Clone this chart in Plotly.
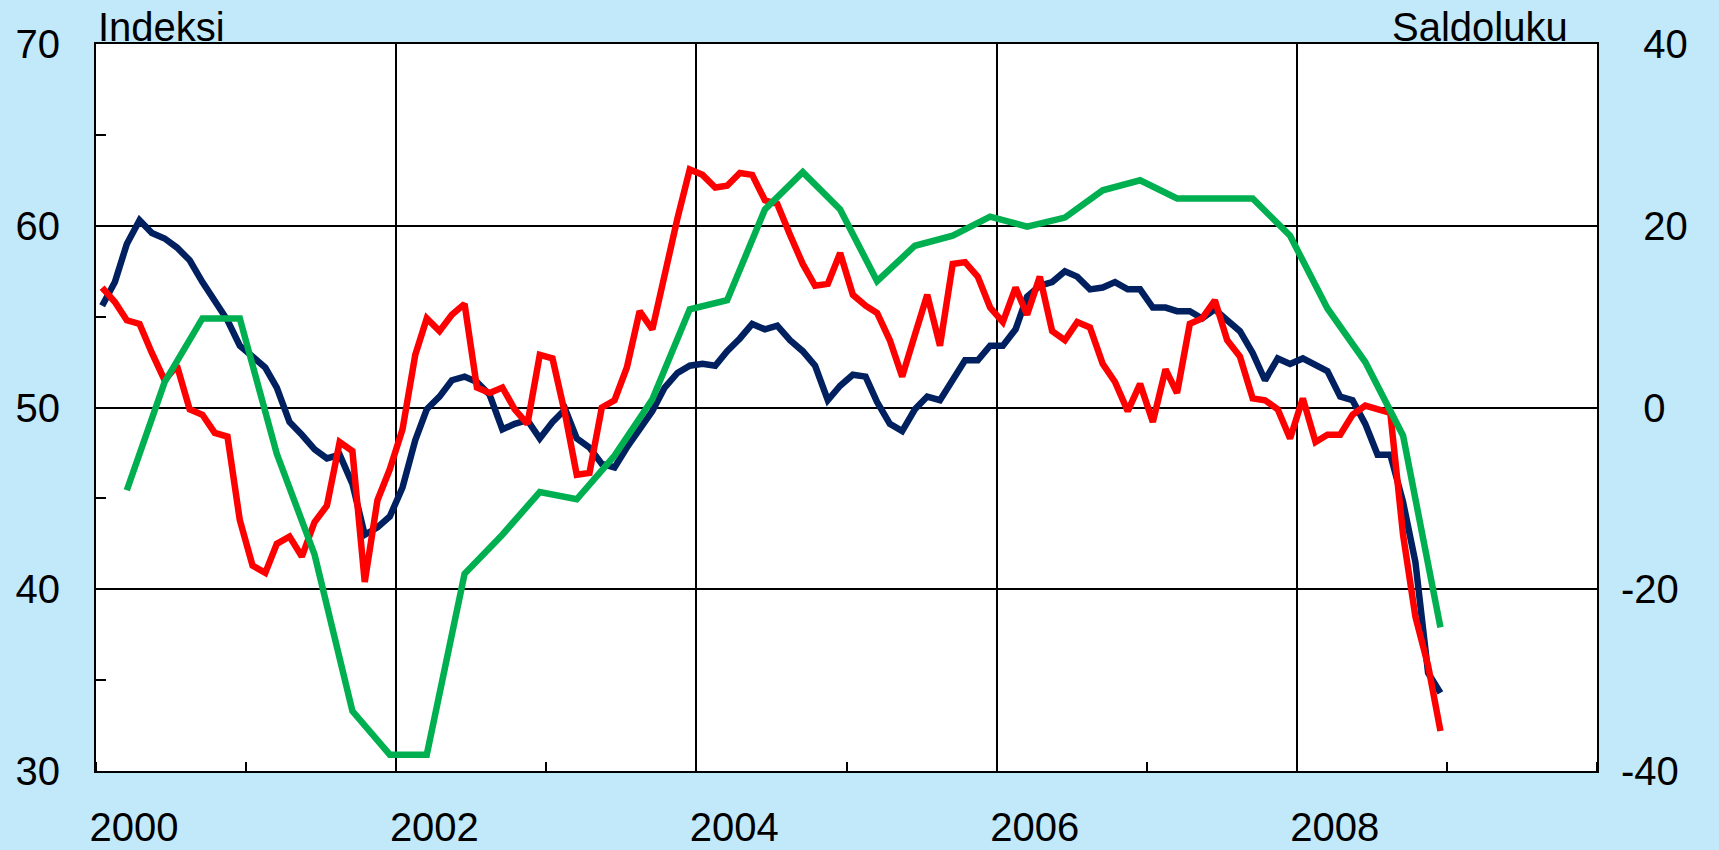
import pandas as pd
import plotly.graph_objects as go

# monthly series, Jan 2000 - Dec 2008 (left axis, index)
blue = [55.6, 56.9, 59.0, 60.3, 59.6, 59.3, 58.8, 58.1, 56.9, 55.8, 54.8, 53.4,
        52.8, 52.2, 51.1, 49.2, 48.5, 47.7, 47.2, 47.4, 45.8, 43.0, 43.4, 44.0,
        45.6, 48.2, 49.9, 50.6, 51.5, 51.7, 51.4, 50.7, 48.8, 49.1, 49.3, 48.3,
        49.2, 49.9, 48.3, 47.8, 46.9, 46.7, 47.8, 48.8, 49.8, 51.1, 51.9, 52.3,
        52.4, 52.3, 53.1, 53.8, 54.6, 54.3, 54.5, 53.7, 53.1, 52.3, 50.4, 51.2,
        51.8, 51.7, 50.3, 49.1, 48.7, 49.9, 50.6, 50.4, 51.5, 52.6, 52.6, 53.4,
        53.4, 54.3, 56.1, 56.7, 56.9, 57.5, 57.2, 56.5, 56.6, 56.9, 56.5, 56.5,
        55.5, 55.5, 55.3, 55.3, 54.9, 55.4, 54.8, 54.2, 53.0, 51.5, 52.7, 52.4,
        52.7, 52.3, 52.0, 50.6, 50.4, 49.1, 47.4, 47.4, 44.8, 41.5, 35.4, 34.3]

red = [56.6, 55.8, 54.8, 54.6, 53.0, 51.5, 52.3, 49.9, 49.6, 48.6, 48.4, 43.8,
       41.3, 40.9, 42.5, 42.9, 41.8, 43.7, 44.6, 48.1, 47.6, 40.4, 44.9, 46.6,
       48.8, 52.9, 54.9, 54.2, 55.1, 55.7, 51.1, 50.8, 51.1, 49.9, 49.1, 52.9,
       52.7, 49.6, 46.3, 46.4, 50.0, 50.4, 52.2, 55.3, 54.3, 57.4, 60.4, 63.1,
       62.8, 62.1, 62.2, 62.9, 62.8, 61.4, 61.2, 59.5, 57.9, 56.7, 56.8, 58.5,
       56.2, 55.6, 55.2, 53.7, 51.7, 54.0, 56.2, 53.4, 57.9, 58.0, 57.2, 55.5,
       54.7, 56.6, 55.1, 57.2, 54.2, 53.7, 54.7, 54.4, 52.4, 51.4, 49.8, 51.3,
       49.2, 52.1, 50.8, 54.6, 54.9, 55.9, 53.7, 52.8, 50.5, 50.4, 49.9, 48.3,
       50.5, 48.1, 48.5, 48.5, 49.6, 50.1, 49.9, 49.7, 43.0, 38.5, 35.8, 32.2]

# quarterly series, Q1 2000 - Q4 2008 (right axis, balance)
green = [-9.1, 2.8, 9.8, 9.8,
         -5.1, -16.2, -33.4, -38.2,
         -38.2, -18.3, -14.0, -9.3,
         -10.1, -5.3, 0.9, 10.8,
         11.8, 21.8, 25.9, 21.8,
         13.9, 17.8, 18.9, 21.0,
         19.9, 20.9, 23.9, 25.0,
         23.0, 23.0, 23.0, 18.9,
         10.9, 5.0, -3.1, -24.2]

right_ticks = [-40, -20, 0, 20, 40]
# figure space in front of positives so the minus sign hangs out to the left
right_labels = ["-40", "-20", "\u20070", "\u200720", "\u200740"]

months = pd.date_range("2000-01-01", periods=len(blue), freq="MS") + pd.Timedelta(days=15)
quarters = pd.date_range("2000-03-01", periods=len(green), freq="3MS") + pd.Timedelta(days=15)

font = "Arial, Liberation Sans, sans-serif"

fig = go.Figure()
fig.add_trace(go.Scatter(x=months, y=blue, mode="lines",
                         line=dict(color="#002060", width=6.5)))
fig.add_trace(go.Scatter(x=months, y=red, mode="lines",
                         line=dict(color="#FF0000", width=6.5)))
fig.add_trace(go.Scatter(x=quarters, y=green, mode="lines", yaxis="y2",
                         line=dict(color="#00B050", width=6.5)))

fig.update_layout(
    width=1719, height=850,
    margin=dict(l=96, r=122, t=44, b=79),
    paper_bgcolor="#C2E9F9",
    plot_bgcolor="white",
    showlegend=False,
    font=dict(family=font, size=40, color="black"),
    xaxis=dict(type="date", range=["2000-01-01", "2010-01-01"],
               tickvals=["2000-01-01", "2002-01-01", "2004-01-01", "2006-01-01", "2008-01-01"],
               tickformat="%Y", ticks="", ticklabelshift=38, ticklabelstandoff=20,
               showgrid=True, gridcolor="black", gridwidth=1.5,
               showline=True, linecolor="black", linewidth=2, mirror=True,
               zeroline=False, automargin=False,
               minor=dict(dtick="M12", tick0="2001-01-01", ticks="inside",
                          ticklen=9, tickwidth=1.5, tickcolor="black", showgrid=False)),
    yaxis=dict(range=[30, 70], dtick=10, ticks="", ticklabelstandoff=26,
               showgrid=True, gridcolor="black", gridwidth=1.5,
               showline=True, linecolor="black", linewidth=2,
               zeroline=False, automargin=False,
               minor=dict(dtick=5, ticks="inside", ticklen=10, tickwidth=1.5,
                          tickcolor="black", showgrid=False)),
    yaxis2=dict(range=[-40, 40], tickvals=right_ticks, ticktext=right_labels,
                overlaying="y", side="right",
                ticks="", ticklabelstandoff=14, showgrid=False, automargin=False,
                showline=True, linecolor="black", linewidth=2, zeroline=False),
    annotations=[
        dict(text="Indeksi", xref="paper", yref="paper", x=0, y=1,
             xanchor="left", yanchor="bottom", showarrow=False, yshift=-7,
             font=dict(size=40)),
        dict(text="Saldoluku", xref="paper", yref="paper", x=0.982, y=1,
             xanchor="right", yanchor="bottom", showarrow=False, yshift=-7,
             font=dict(size=40)),
    ],
)

fig.write_html("out.html", config={"displayModeBar": False},
               post_script="document.body.style.margin='0px';")
